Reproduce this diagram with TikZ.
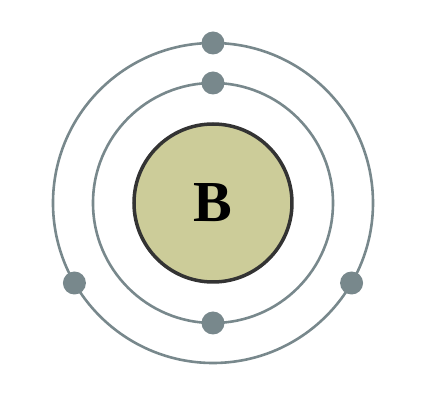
\documentclass[tikz,border=0pt]{standalone}
\usepackage{fontspec}
\setmainfont{Liberation Serif}
\definecolor{orbitgray}{RGB}{120,136,140}
\definecolor{nucleusfill}{RGB}{204,204,153}
\definecolor{nucleusline}{RGB}{51,51,51}
\begin{document}
\begin{tikzpicture}[x=1pt,y=1pt,
	orbit/.style={orbitgray,line width=2.6pt},
	electron/.style={circle,fill=orbitgray,inner sep=0pt,minimum size=23pt}]
	    \useasboundingbox (-213,-206) rectangle (216,203);
	    \draw[orbit](0,0) circle(120);
	    \draw[orbit](0,0) circle(160);
	    \node[circle,draw=nucleusline,line width=3.5pt,fill=nucleusfill,minimum size=158pt,inner sep=0pt,font=\fontsize{58}{58}\selectfont\bfseries](nucleus) at (0,0){B};
	    \node[electron](e1) at (90:120){};
	    \node[electron](e2) at (270:120){};
	    \node[electron](e3) at (90:160){};
	    \node[electron](e4) at (210:160){};
	    \node[electron](e5) at (330:160){};

	\end{tikzpicture}
\end{document}
